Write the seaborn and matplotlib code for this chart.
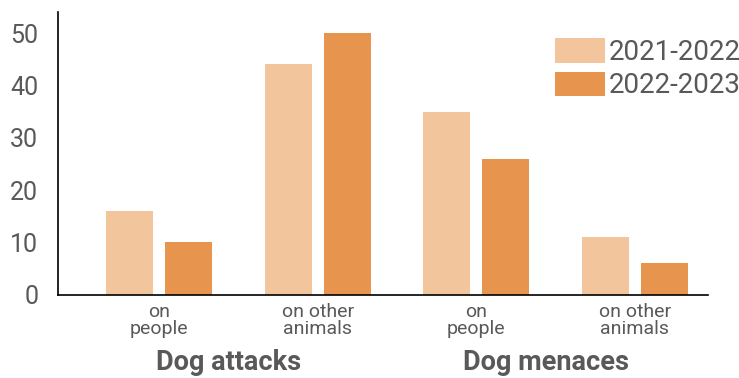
import pandas as pd
import matplotlib
matplotlib.use("Agg")
import matplotlib.pyplot as plt
import matplotlib.transforms as mtransforms
import seaborn as sns

# data
categories = ["attacks on people", "attacks on other animals",
              "menaces on people", "menaces on other animals"]
tick_labels = ["on\npeople", "on other\nanimals", "on\npeople", "on other\nanimals"]
group_labels = ["Dog attacks", "Dog menaces"]
years = ["2021-2022", "2022-2023"]
counts_2021 = [16, 44, 35, 11]
counts_2022 = [10, 50, 26, 6]
colors = ["#F2C59C", "#E6944E"]

df = pd.DataFrame({
    "category": categories * 2,
    "year": [years[0]] * 4 + [years[1]] * 4,
    "count": counts_2021 + counts_2022,
})

sns.set_theme(style="white")
plt.rcParams["font.family"] = ["Roboto", "DejaVu Sans"]
grey = "#595959"

fig = plt.figure(figsize=(7.39, 3.78), dpi=100)
ax = fig.add_axes([0.078, 0.22, 0.88, 0.748])

sns.barplot(data=df, x="category", y="count", hue="year", order=categories,
            palette=colors, width=0.744, gap=0.2, saturation=1, ax=ax,
            linewidth=0, legend=True)

ax.set_xlim(-0.64, 3.46)
ax.set_ylim(0, 54)
ax.set_yticks([0, 10, 20, 30, 40, 50])
ax.tick_params(axis="y", labelsize=18, labelcolor=grey, length=0, pad=14)
ax.set_xticks(range(len(categories)))
ax.set_xticklabels(tick_labels, fontsize=14, color=grey, linespacing=0.95)
ax.tick_params(axis="x", length=0, pad=6)
ax.set_xlabel("")
ax.set_ylabel("")

sns.despine(ax=ax)
for side in ["left", "bottom"]:
    ax.spines[side].set_color("black")
    ax.spines[side].set_linewidth(1.2)
ax.set_zorder(1)

# group labels under the tick labels
trans = mtransforms.blended_transform_factory(ax.transData, fig.transFigure)
for i, g in enumerate(group_labels):
    ax.text(2 * i + 0.44, 0.02, g, transform=trans, ha="center", va="baseline",
            fontsize=19.5, fontweight="bold", color=grey)

ax.legend(loc="upper left", bbox_to_anchor=(555 / 739, 1 - 38 / 378),
          bbox_transform=fig.transFigure, frameon=False, fontsize=20,
          handlelength=1.8, handleheight=1.0, handletextpad=0.12,
          labelspacing=0.2, borderpad=0, borderaxespad=0, labelcolor=grey)

fig.savefig("out.png", dpi=100)
